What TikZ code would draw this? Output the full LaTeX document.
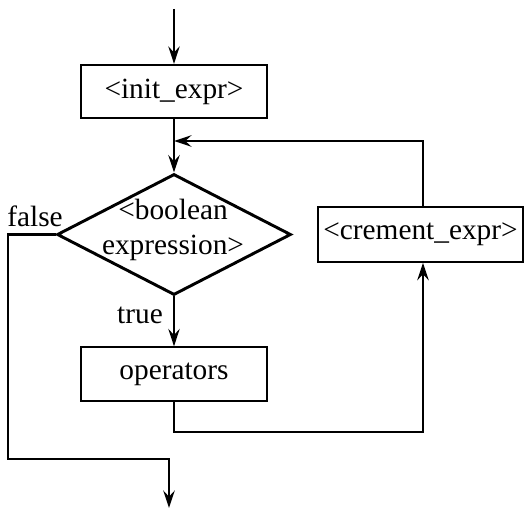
\documentclass[tikz,border=0pt]{standalone}
\usepackage{fontspec}
\setmainfont{Liberation Serif}
\usetikzlibrary{arrows.meta,shapes.geometric}
\begin{document}
\begin{tikzpicture}[x=0.75pt,y=-0.75pt,
  every node/.style={font=\fontsize{22}{26}\selectfont},
  box/.style={draw,line width=1.5pt,inner sep=0pt,minimum width=#1,minimum height=40pt},
  box/.default=139pt,
  decision/.style={draw,diamond,line width=2.2pt,inner sep=0pt,minimum width=175.5pt,minimum height=90.75pt},
  flow/.style={line width=2.2pt},
  arrow/.style={flow,-{Stealth[length=13pt,width=8.5pt,inset=4.5pt]}},
  tag/.style={inner sep=0pt}]
  \useasboundingbox (0,0) rectangle (528,510);

  % nodes of the loop
  \node[box] (init) at (174,91.5) {<init\_expr>};
  \node[decision] (cond) at (174,234.5) {};
  \node[align=center,tag] (condtext) at (173,230) {<boolean\\expression>};
  \node[box] (ops) at (174,374) {operators};
  \node[box=153.75pt,minimum height=41pt] (crement) at (420.5,234.5) {<crement\_expr>};
  \node[tag] (falsetag) at (35,216) {false};
  \node[tag] (truetag) at (140,315) {true};

  % helper points for the connectors
  \coordinate (start) at (174,9);
  \coordinate (join) at (174,141);
  \coordinate (loopbend) at (423,432);
  \coordinate (exitbend) at (8,459);
  \coordinate (exit) at (169,508);

  % connectors
  \draw[arrow] (start) -- (init.north);
  \draw[flow] (init.south) -- (join);
  \draw[arrow] (join) -- (cond.north);
  \draw[arrow] (cond.south) -- (ops.north);
  \draw[arrow] (ops.south) |- (loopbend) -- (loopbend |- crement.south);
  \draw[arrow] (loopbend |- crement.north) |- (join);
  \draw[arrow] (cond.west) -| (exitbend) -- (exitbend -| exit) -- (exit);
\end{tikzpicture}
\end{document}
